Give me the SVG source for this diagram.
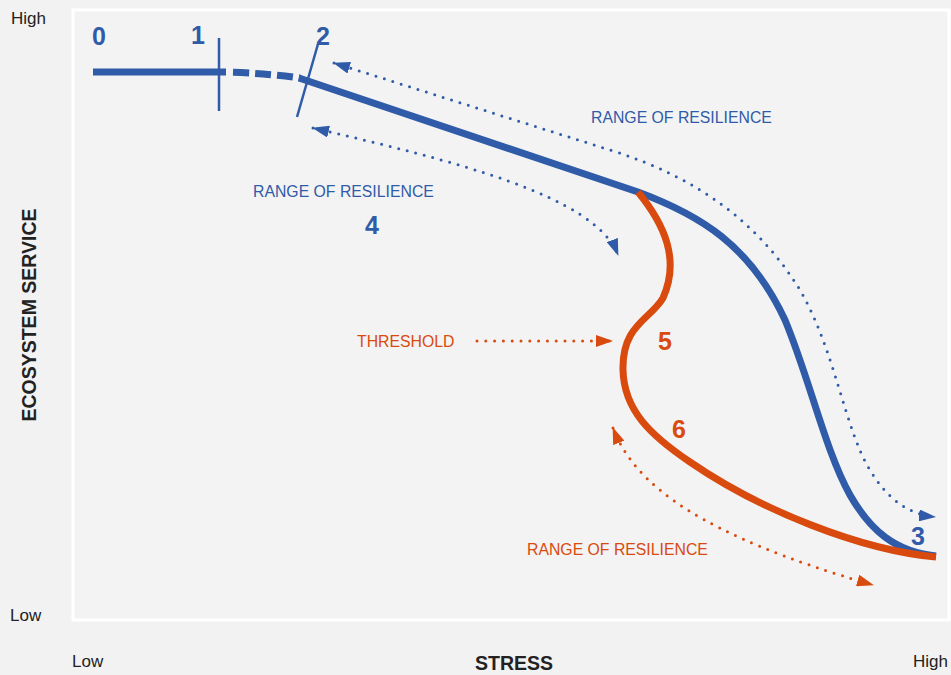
<svg xmlns="http://www.w3.org/2000/svg" width="951" height="675" viewBox="0 0 951 675">
<style>
.ax{font-family:"Liberation Sans",Arial,sans-serif;font-size:17px;fill:#222}
.axb{font-family:"Liberation Sans",Arial,sans-serif;font-size:19.5px;font-weight:bold;fill:#222}
.num{font-family:"Liberation Sans",Arial,sans-serif;font-size:25px;font-weight:bold}
.lbl{font-family:"Liberation Sans",Arial,sans-serif;font-size:15.8px}
.blue{fill:#2f5ba8}
.orange{fill:#d94a0e}
.curve{fill:none;stroke-width:7}
.dot{fill:none;stroke-width:3;stroke-linecap:round;stroke-dasharray:0 8.8}
</style>
<defs>
<marker id="ab" viewBox="0 0 17 12" refX="16" refY="6" markerWidth="17" markerHeight="12" markerUnits="userSpaceOnUse" orient="auto-start-reverse"><path d="M0,0 L17,6 L0,12 z" fill="#2f5ba8"/></marker>
<marker id="ao" viewBox="0 0 17 12" refX="16" refY="6" markerWidth="17" markerHeight="12" markerUnits="userSpaceOnUse" orient="auto-start-reverse"><path d="M0,0 L17,6 L0,12 z" fill="#d94a0e"/></marker>
</defs>
<rect x="0" y="0" width="951" height="675" fill="#f2f2f2"/>
<rect id="plot" x="73" y="10" width="876" height="610" fill="#f3f3f3" stroke="#ffffff" stroke-width="3"/>

<g id="axes">
<text class="ax" x="11" y="24">High</text>
<text class="ax" x="10" y="621">Low</text>
<text class="ax" x="72" y="667">Low</text>
<text class="ax" x="913" y="667">High</text>
<text class="axb" x="514" y="670" text-anchor="middle">STRESS</text>
<text class="axb" transform="translate(36,315) rotate(-90)" text-anchor="middle" font-size="20px">ECOSYSTEM SERVICE</text>
</g>

<g id="blue-curve">
<line x1="93" y1="72" x2="226" y2="72" stroke="#2f5ba8" stroke-width="7"/>
<path d="M233 72.3 Q 268 73.5 300 78" class="curve" stroke="#2f5ba8" stroke-dasharray="16 6"/>
<path d="M299 78 L638 192 C700 215 750 245 785 320 C810 380 825 450 850 495 C870 530 895 552 936 556" class="curve" stroke="#2f5ba8"/>
<line x1="219" y1="38" x2="219" y2="111" stroke="#2f5ba8" stroke-width="2.5"/>
<line x1="318" y1="44" x2="297" y2="117" stroke="#2f5ba8" stroke-width="2.5"/>
</g>

<g id="orange-curve">
<path d="M638 192 C665 225 680 260 663 298 C650 320 622 325 623 370 C624 410 650 435 690 462 C760 510 860 550 936 557" class="curve" stroke="#d94a0e"/>
</g>

<g id="connectors">
<path d="M334 63 L610 150 C700 178 760 225 800 290 C835 350 845 430 870 470 C885 495 905 514 935 517" class="dot" stroke="#2f5ba8" marker-start="url(#ab)" marker-end="url(#ab)"/>
<path d="M313 128 C450 160 595 195 618 255" class="dot" stroke="#2f5ba8" marker-start="url(#ab)" marker-end="url(#ab)"/>
<path d="M477 341 L612 341" class="dot" stroke="#d94a0e" marker-end="url(#ao)"/>
<path d="M613 428 C635 485 700 535 873 585" class="dot" stroke="#d94a0e" marker-start="url(#ao)" marker-end="url(#ao)"/>
</g>

<g id="labels">
<text class="num blue" x="92" y="45">0</text>
<text class="num blue" x="191" y="44">1</text>
<text class="num blue" x="316" y="45">2</text>
<text class="num blue" x="911" y="545">3</text>
<text class="num blue" x="365" y="234">4</text>
<text class="num orange" x="658" y="350">5</text>
<text class="num orange" x="672" y="438">6</text>
<text class="lbl blue" x="591" y="123">RANGE OF RESILIENCE</text>
<text class="lbl blue" x="253" y="197">RANGE OF RESILIENCE</text>
<text class="lbl orange" x="527" y="555">RANGE OF RESILIENCE</text>
<text class="lbl orange" x="357" y="347">THRESHOLD</text>
</g>
</svg>
